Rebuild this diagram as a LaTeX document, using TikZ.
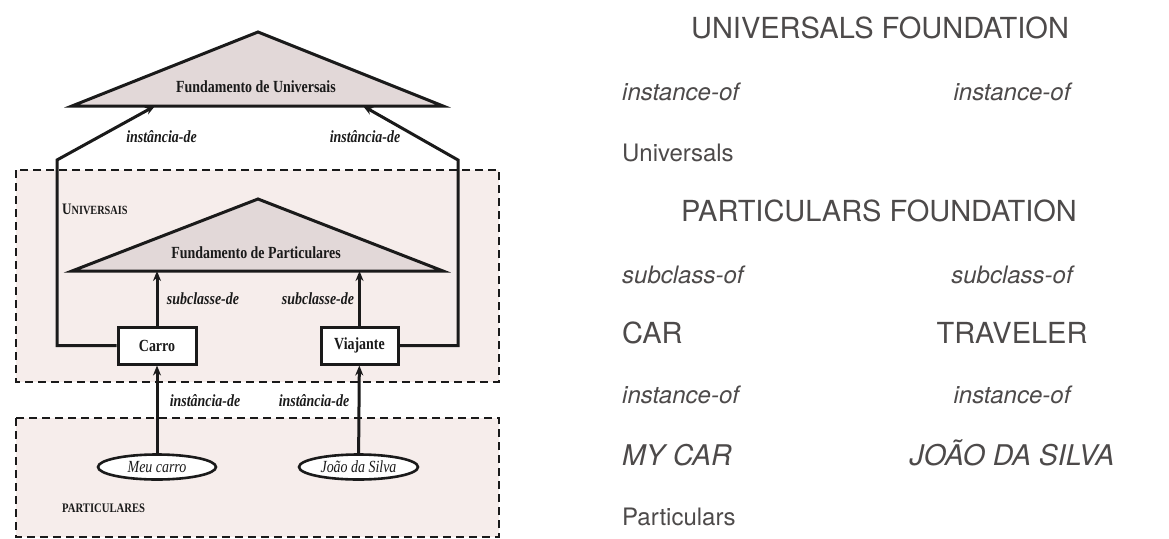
\documentclass[tikz,border=0pt]{standalone}
\usepackage{fontspec}
\setmainfont[FakeStretch=0.82]{Liberation Serif}
\newfontfamily\helv{TeX Gyre Heros}
\usetikzlibrary{arrows.meta,shapes.geometric}

\definecolor{trifill}{HTML}{E2D8D8}
\definecolor{zonefill}{HTML}{F6EDEB}
\definecolor{ink}{HTML}{1A1A1A}
\definecolor{grayt}{HTML}{4D4A4A}

\tikzset{
  zone/.style={draw=ink, fill=zonefill, line width=2.4pt, dash pattern=on 8pt off 5pt},
  found/.style={draw=ink, fill=trifill, line width=3pt, line join=miter},
  cls/.style={draw=ink, fill=white, line width=3pt, minimum height=37pt,
    inner sep=0pt, font=\bfseries\fontsize{17}{19}\selectfont, text=ink},
  inst/.style={ellipse, draw=ink, fill=white, line width=2.6pt, minimum width=118pt,
    minimum height=25pt, inner sep=0pt, font=\itshape\fontsize{17}{19}\selectfont, text=ink},
  rel/.style={font=\bfseries\itshape\fontsize{17}{19}\selectfont, text=ink, inner sep=0pt},
  title/.style={font=\bfseries\fontsize{17}{19}\selectfont, text=ink, inner sep=0pt},
  link/.style={draw=ink, line width=3pt, -{Stealth[length=10pt,width=8pt]}},
  tr/.style={font=\helv\fontsize{24}{28}\selectfont, text=grayt, inner sep=0pt},
  tri/.style={font=\helv\itshape\fontsize{24}{28}\selectfont, text=grayt, inner sep=0pt},
  trbig/.style={font=\helv\fontsize{29}{32}\selectfont, text=grayt, inner sep=0pt},
  trbigi/.style={font=\helv\itshape\fontsize{28.5}{32}\selectfont, text=grayt, inner sep=0pt},
}

\begin{document}
\begin{tikzpicture}[x=1pt, y=-1pt]
\useasboundingbox[fill=white] (0,0) rectangle (1169,538);

% dashed zones
\path[zone] (16,170) rectangle (499,382);
\path[zone] (16,418) rectangle (499,537);

% classes and individuals
\node[cls, minimum width=78pt] (carro) at (157,345.5) {Carro};
\node[cls, minimum width=77pt] (viaj) at (359.5,345.5) {Viajante};
\node[inst] (meu) at (157,467) {Meu carro};
\node[inst, minimum width=119pt] (joao) at (358.5,467) {João da Silva};

% arrow targets on the foundations
\coordinate (fu-l) at (155,106);
\coordinate (fu-r) at (363,106);
\coordinate (fp-l) at (157,271);
\coordinate (fp-r) at (359.5,271);
\coordinate (kneeL) at (57,160);
\coordinate (kneeR) at (458,160);

% connectors
\draw[link] (carro.west) -| (kneeL) -- (fu-l);
\draw[link] (viaj.east) -| (kneeR) -- (fu-r);
\draw[link] (carro) -- (fp-l);
\draw[link] (viaj) -- (fp-r);
\draw[link] (meu) -- (carro);
\draw[link] (joao) -- (viaj);

% foundations
\path[found] (72,106) -- (258,32) -- (443,106) -- cycle;
\path[found] (72,271) -- (258,199) -- (443,271) -- cycle;
\node[title] (fu) at (256,87) {Fundamento de Universais};
\node[title] (fp) at (256,253) {Fundamento de Particulares};

% relation labels
\node[rel] (l1) at (161.5,137) {instância-de};
\node[rel] (l2) at (365,137) {instância-de};
\node[rel] (l3) at (203,299) {subclasse-de};
\node[rel] (l4) at (318,299) {subclasse-de};
\node[rel] (l5) at (205,401) {instância-de};
\node[rel] (l6) at (314,401) {instância-de};

% zone names
\node[anchor=west, inner sep=0pt, text=ink, font=\bfseries] (zu) at (62,209)
  {{\fontsize{16}{16}\selectfont U}{\fontsize{12.5}{12.5}\selectfont NIVERSAIS}};
\node[anchor=west, inner sep=0pt, text=ink, font=\bfseries\fontsize{13}{14}\selectfont] (zp) at (62,508) {PARTICULARES};

% English glossary
\node[trbig, anchor=base] (e1) at (880,38.3) {UNIVERSALS FOUNDATION};
\node[tri, anchor=base west] (e2) at (622,100) {instance-of};
\node[tri, anchor=base] (e3) at (1012,100) {instance-of};
\node[tr, anchor=base west] (e4) at (622,161.7) {Universals};
\node[trbig, anchor=base] (e5) at (879,221.7) {PARTICULARS FOUNDATION};
\node[tri, anchor=base west] (e6) at (622,283.3) {subclass-of};
\node[tri, anchor=base] (e7) at (1012,283.3) {subclass-of};
\node[trbig, anchor=base west] (e8) at (622,343.3) {CAR};
\node[trbig, anchor=base] (e9) at (1012,343.3) {TRAVELER};
\node[tri, anchor=base west] (e10) at (622,403.3) {instance-of};
\node[tri, anchor=base] (e11) at (1012,403.3) {instance-of};
\node[trbigi, anchor=base west] (e12) at (622,465) {MY CAR};
\node[trbigi, anchor=base] (e13) at (1012,465) {JOÃO DA SILVA};
\node[tr, anchor=base west] (e14) at (622,525) {Particulars};
\end{tikzpicture}
\end{document}
